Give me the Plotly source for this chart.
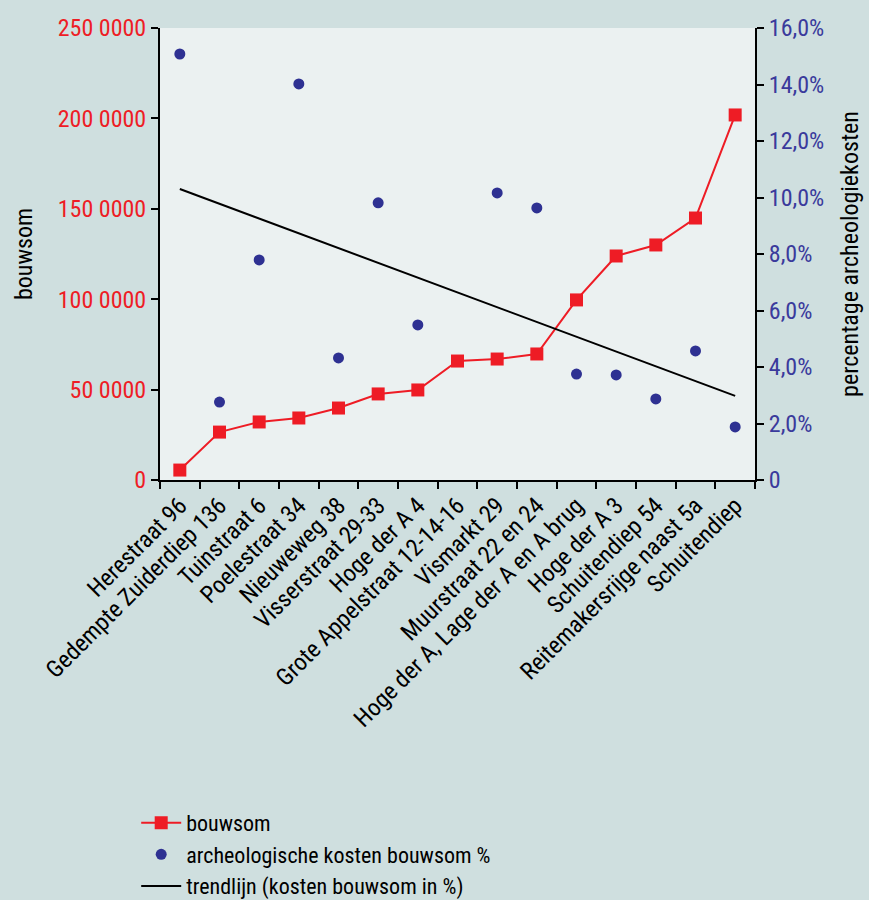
import plotly.graph_objects as go

categories = [
    "Herestraat 96", "Gedempte Zuiderdiep 136", "Tuinstraat 6", "Poelestraat 34",
    "Nieuweweg 38", "Visserstraat 29-33", "Hoge der A 4", "Grote Appelstraat 12-14-16",
    "Vismarkt 29", "Muurstraat 22 en 24", "Hoge der A, Lage der A en A brug",
    "Hoge der A 3", "Schuitendiep 54", "Reitemakersrijge naast 5a", "Schuitendiep",
]
bouwsom = [5500, 26500, 32100, 34300, 39800, 47600, 49800, 65800, 66900, 69700,
           99600, 123900, 130000, 144900, 201900]
kosten_pct = [15.08, 2.76, 7.79, 14.02, 4.32, 9.81, 5.49, None, 10.16, 9.63,
              3.75, 3.72, 2.87, 4.57, 1.88]
trend_x = [categories[0], categories[-1]]
trend_pct = [10.30, 2.98]

left_tickvals = [0, 50000, 100000, 150000, 200000, 250000]
left_ticktext = ["0", "50 0000", "100 0000", "150 0000", "200 0000", "250 0000"]
right_tickvals = [0, 2, 4, 6, 8, 10, 12, 14, 16]
right_ticktext = ["0", "2,0%", "4,0%", "6,0%", "8,0%", "10,0%", "12,0%", "14,0%", "16,0%"]

FONT = "Liberation Sans Narrow, Roboto Condensed, DejaVu Sans Condensed, sans-serif"
RED = "#ee1c25"
BLUE = "#2e3192"
BLUE_TXT = "#3a3a9c"
FS = 24

fig = go.Figure()
fig.add_trace(go.Scatter(
    x=categories, y=bouwsom, name="bouwsom", mode="lines+markers",
    line=dict(color=RED, width=2),
    marker=dict(symbol="square", size=13, color=RED),
    yaxis="y", legendrank=1,
))
fig.add_trace(go.Scatter(
    x=categories, y=kosten_pct, name="archeologische kosten bouwsom %", mode="markers",
    marker=dict(symbol="circle", size=11, color=BLUE),
    yaxis="y2", legendrank=2,
))
fig.add_trace(go.Scatter(
    x=trend_x, y=trend_pct, name="trendlijn (kosten bouwsom in %)", mode="lines",
    line=dict(color="black", width=2),
    yaxis="y2", legendrank=3,
))

fig.update_layout(
    width=869, height=900,
    margin=dict(l=160, r=114, t=28, b=420, autoexpand=False),
    paper_bgcolor="#cfdfdf",
    plot_bgcolor="#ebf1f1",
    font=dict(family=FONT, size=FS, color="black"),
    showlegend=True,
    legend=dict(
        x=-0.04, xanchor="left",
        yref="container", y=0.109, yanchor="top",
        bgcolor="rgba(0,0,0,0)", font=dict(size=22, family=FONT),
        tracegroupgap=0, itemwidth=40,
    ),
    xaxis=dict(
        type="category", tickson="boundaries", tickangle=-45,
        showline=True, linecolor="black", linewidth=2,
        ticks="outside", ticklen=7, tickwidth=2, tickcolor="black",
        showgrid=False, zeroline=False,
        tickfont=dict(size=FS, family=FONT, color="black"),
        range=[-0.5, 14.5],
    ),
    yaxis=dict(
        range=[0, 250000], tickvals=left_tickvals, ticktext=left_ticktext,
        showline=True, linecolor="black", linewidth=2,
        ticks="outside", ticklen=7, tickwidth=2, tickcolor="black",
        showgrid=False, zeroline=False,
        tickfont=dict(size=FS, family=FONT, color=RED),
        title=dict(text="bouwsom", font=dict(size=FS, family=FONT, color="black"), standoff=18),
    ),
    yaxis2=dict(
        range=[0, 16], tickvals=right_tickvals, ticktext=right_ticktext,
        overlaying="y", side="right",
        showline=True, linecolor="black", linewidth=2,
        ticks="outside", ticklen=7, tickwidth=2, tickcolor="black",
        showgrid=False, zeroline=False,
        tickfont=dict(size=FS, family=FONT, color=BLUE_TXT),
        title=dict(text="percentage archeologiekosten", font=dict(size=FS, family=FONT, color="black"), standoff=18),
    ),
)

fig.write_html(
    "out.html",
    config={"displayModeBar": False},
    post_script="document.body.style.margin='0';document.body.style.overflow='hidden';",
)
